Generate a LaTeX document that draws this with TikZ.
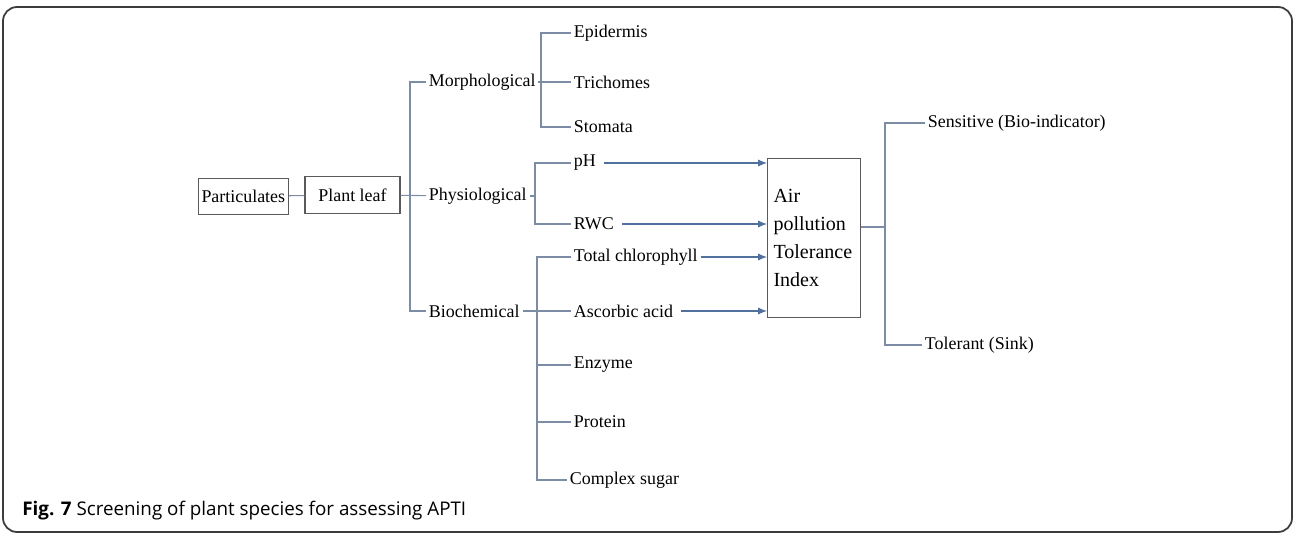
\documentclass[tikz,border=0pt]{standalone}
\usepackage{fontspec}
\setmainfont{Liberation Serif}
\newfontfamily\capfont{Open Sans}
\usetikzlibrary{arrows.meta}

\definecolor{branch}{RGB}{125,140,165}
\definecolor{arrowc}{RGB}{80,112,160}
\definecolor{boxline}{RGB}{90,90,90}
\definecolor{framec}{RGB}{60,60,60}

\begin{document}
\begin{tikzpicture}[x=0.02cm,y=-0.02cm,
  item/.style={anchor=west,inner sep=1.5pt,font=\fontsize{10.2}{12}\selectfont},
  box/.style={draw=boxline,line width=0.6pt,inner sep=0pt,font=\fontsize{10.2}{12}\selectfont},
  tree/.style={draw=branch,line width=0.6pt},
  feed/.style={draw=arrowc,line width=0.6pt,-{Latex[length=5pt,width=4pt]}}]

\useasboundingbox (0,0) rectangle (1295,536);
\draw[framec,line width=1pt,rounded corners=8pt] (3,7) rectangle (1292,532);

\node[box,minimum width=1.8cm,minimum height=0.72cm] (part) at (243.3,196.3) {Particulates};
\node[box,minimum width=1.9cm,minimum height=0.74cm] (leaf) at (352.5,195) {Plant leaf};

\node[item] (morph) at (426,82) {Morphological};
\node[item] (phys) at (426,196) {Physiological};
\node[item] (bio) at (426,311) {Biochemical};

\node[item] (epi) at (571,33) {Epidermis};
\node[item] (tri) at (571,82) {Trichomes};
\node[item] (sto) at (571,127) {Stomata};
\node[item] (ph) at (571,163) {pH};
\node[item] (rwc) at (571,224) {RWC};
\node[item] (tchl) at (571,257) {Total chlorophyll};
\node[item] (asc) at (571,311) {Ascorbic acid};
\node[item] (enz) at (571,365) {Enzyme};
\node[item] (prot) at (571,422) {Protein};
\node[item] (sug) at (567,480) {Complex sugar};

\node[box,anchor=north west,minimum height=3.18cm,text width=1.62cm,inner xsep=0.12cm,
  align=left,font=\fontsize{11.4}{15.9}\selectfont] (apti) at (767,158)
  {Air\\pollution\\Tolerance\\Index};

\node[item] (sens) at (925,123) {Sensitive (Bio-indicator)};
\node[item] (tol) at (922,345) {Tolerant (Sink)};

\coordinate (mainbus) at (410,196);
\coordinate (mbus) at (541,82);
\coordinate (pbus) at (535,196);
\coordinate (bbus) at (537,311);
\coordinate (rbus) at (885,227);

\draw[tree] (part) -- (leaf);
\draw[tree] (leaf) -- (phys);
\draw[tree] (morph.west) -| (mainbus) |- (bio.west);
\draw[tree] (morph) -- (tri);
\draw[tree] (epi.west) -| (mbus) |- (sto.west);
\draw[tree] (phys) -- (pbus);
\draw[tree] (ph.west) -| (pbus) |- (rwc.west);
\draw[tree] (bio) -- (asc);
\draw[tree] (tchl.west) -| (bbus) |- (sug.west);
\draw[tree] (enz.west) -- (enz.west -| bbus);
\draw[tree] (prot.west) -- (prot.west -| bbus);
\draw[tree] (apti.east |- rbus) -- (rbus);
\draw[tree] (sens.west) -| (rbus) |- (tol.west);

\draw[feed,shorten <=3pt] (ph) -- (ph -| apti.west);
\draw[feed,shorten <=3pt] (rwc) -- (rwc -| apti.west);
\draw[feed] (tchl) -- (tchl -| apti.west);
\draw[feed,shorten <=3pt] (asc) -- (asc -| apti.west);

\node[anchor=west,inner sep=0pt,font=\capfont\fontsize{10.7}{12}\selectfont] (cap) at (22,511)
  {\textbf{Fig. 7} Screening of plant species for assessing APTI};
\end{tikzpicture}
\end{document}
